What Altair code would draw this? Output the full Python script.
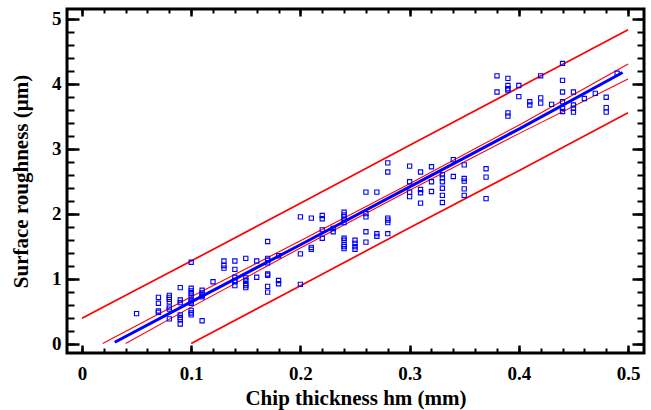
import altair as alt
import pandas as pd

# Scatter points: chip thickness (mm) and surface roughness (um)
thickness = (
    [0.05] +
    [0.07] * 4 +
    [0.08] * 7 +
    [0.09] * 7 +
    [0.10] * 11 +
    [0.11] * 5 +
    [0.12] +
    [0.13] * 3 +
    [0.14] * 6 +
    [0.15] * 6 +
    [0.16] * 2 +
    [0.17] * 8 +
    [0.18] * 3 +
    [0.20] * 3 +
    [0.21] * 3 +
    [0.22] * 4 +
    [0.23] * 2 +
    [0.24] * 10 +
    [0.25] * 4 +
    [0.26] * 5 +
    [0.27] * 3 +
    [0.28] * 6 +
    [0.30] * 4 +
    [0.31] * 4 +
    [0.32] * 3 +
    [0.33] * 6 +
    [0.34] * 2 +
    [0.35] * 5 +
    [0.37] * 3 +
    [0.38] * 2 +
    [0.39] * 6 +
    [0.40] * 2 +
    [0.41] * 2 +
    [0.42] * 3 +
    [0.43] +
    [0.44] * 6 +
    [0.45] * 4 +
    [0.46] +
    [0.47] +
    [0.48] * 3 +
    [0.49]
)
roughness = (
    [0.46] +
    [0.71, 0.62, 0.50, 0.48] +
    [0.74, 0.71, 0.68, 0.64, 0.56, 0.53, 0.38] +
    [0.86, 0.67, 0.63, 0.44, 0.40, 0.37, 0.30] +
    [1.25, 0.85, 0.81, 0.77, 0.73, 0.67, 0.64, 0.62, 0.51, 0.47, 0.44] +
    [0.82, 0.78, 0.74, 0.72, 0.35] +
    [0.95] +
    [1.27, 1.20, 1.16] +
    [1.27, 1.14, 1.02, 0.97, 0.95, 0.89] +
    [1.31, 1.01, 0.97, 0.92, 0.89, 0.86] +
    [1.27, 1.02] +
    [1.57, 1.31, 1.28, 1.24, 1.07, 1.05, 0.88, 0.79] +
    [1.35, 0.97, 0.92] +
    [1.95, 1.38, 0.91] +
    [1.93, 1.48, 1.45] +
    [1.97, 1.92, 1.75, 1.62] +
    [1.77, 1.72] +
    [2.02, 1.98, 1.95, 1.91, 1.86, 1.62, 1.59, 1.52, 1.49, 1.46] +
    [1.59, 1.54, 1.49, 1.45] +
    [2.33, 2.00, 1.95, 1.72, 1.56] +
    [2.33, 1.69, 1.65] +
    [2.78, 2.64, 1.93, 1.90, 1.86, 1.69] +
    [2.73, 2.49, 2.33, 2.26] +
    [2.64, 2.37, 2.32, 2.16] +
    [2.72, 2.49, 2.34] +
    [2.60, 2.55, 2.49, 2.39, 2.28, 2.17] +
    [2.83, 2.57] +
    [2.75, 2.54, 2.50, 2.38, 2.28] +
    [2.69, 2.56, 2.23] +
    [4.12, 3.87] +
    [4.08, 3.97, 3.92, 3.90, 3.55, 3.50] +
    [3.97, 3.80] +
    [3.72, 3.67] +
    [4.12, 3.78, 3.70] +
    [3.68] +
    [4.31, 4.05, 3.87, 3.72, 3.62, 3.57] +
    [3.87, 3.67, 3.62, 3.56] +
    [3.77] +
    [3.85] +
    [3.79, 3.63, 3.56] +
    [4.16]
)

# Fitted line
fit_x = [0.03, 0.10, 0.20, 0.30, 0.40, 0.495]
fit_y = [0.02, 0.64, 1.52, 2.41, 3.30, 4.17]
# Confidence band
conf_up_x = [0.019, 0.10, 0.20, 0.30, 0.40, 0.50]
conf_up_y = [0.00, 0.72, 1.58, 2.46, 3.36, 4.30]
conf_lo_x = [0.04, 0.10, 0.20, 0.30, 0.40, 0.50]
conf_lo_y = [0.00, 0.56, 1.47, 2.36, 3.23, 4.07]
# Prediction band
pred_up_x = [0.00, 0.10, 0.20, 0.30, 0.40, 0.50]
pred_up_y = [0.39, 1.27, 2.16, 3.05, 3.94, 4.83]
pred_lo_x = [0.10, 0.20, 0.30, 0.40, 0.50]
pred_lo_y = [0.00, 0.89, 1.78, 2.66, 3.55]

x_major = [0, 0.1, 0.2, 0.3, 0.4, 0.5]
x_minor = [round(i * 0.02, 2) for i in range(26)]
y_major = [0, 1, 2, 3, 4, 5]
y_minor = [round(i * 0.2, 1) for i in range(26)]

pts = pd.DataFrame({"x": thickness, "y": roughness})
fit = pd.DataFrame({"x": fit_x, "y": fit_y})
conf = pd.concat([
    pd.DataFrame({"x": conf_up_x, "y": conf_up_y, "k": "up"}),
    pd.DataFrame({"x": conf_lo_x, "y": conf_lo_y, "k": "lo"}),
])
pred = pd.concat([
    pd.DataFrame({"x": pred_up_x, "y": pred_up_y, "k": "up"}),
    pd.DataFrame({"x": pred_lo_x, "y": pred_lo_y, "k": "lo"}),
])

FONT = "Liberation Serif"
xs = alt.Scale(domain=[-0.0137, 0.5146], nice=False, zero=False)
ys = alt.Scale(domain=[-0.146, 5.148], nice=False, zero=False)

common = dict(domain=False, grid=False, tickColor="black")

ax_bottom = alt.Axis(orient="bottom", values=x_major, tickSize=8, offset=-8, tickWidth=2.5,
                     labelExpr="datum.value == 0 ? '0' : format(datum.value, '.1f')",
                     labelFont=FONT, labelFontWeight="bold", labelFontSize=19, labelColor="black",
                     labelPadding=11, title="Chip thickness hm (mm)", titleFont=FONT,
                     titleFontWeight="bold", titleFontSize=21, titleColor="black", titlePadding=4,
                     **common)
ax_bottom_minor = alt.Axis(orient="bottom", values=x_minor, tickSize=5, offset=-5, tickWidth=2,
                           labels=False, title="", **common)
ax_top = alt.Axis(orient="top", values=x_major, tickSize=7, offset=-7, tickWidth=2.5,
                  labels=False, title="", **common)
ax_top_minor = alt.Axis(orient="top", values=x_minor, tickSize=4, offset=-4, tickWidth=2,
                        labels=False, title="", **common)

ax_left = alt.Axis(orient="left", values=y_major, tickSize=12, offset=-12, tickWidth=2.5,
                   format="d", labelFont=FONT, labelFontWeight="bold", labelFontSize=19,
                   labelColor="black", labelPadding=6, title="Surface roughness (μm)",
                   titleFont=FONT, titleFontWeight="bold", titleFontSize=21, titleColor="black",
                   titlePadding=20, **common)
ax_left_minor = alt.Axis(orient="left", values=y_minor, tickSize=7, offset=-7, tickWidth=2,
                         labels=False, title="", **common)
ax_right = alt.Axis(orient="right", values=y_major, tickSize=12, offset=-12, tickWidth=2.5,
                    labels=False, title="", **common)
ax_right_minor = alt.Axis(orient="right", values=y_minor, tickSize=7, offset=-7, tickWidth=2,
                          labels=False, title="", **common)

pred_layer = alt.Chart(pred).mark_line(color="#ff0000", strokeWidth=1.7, clip=True).encode(
    x=alt.X("x:Q", scale=xs, axis=ax_top_minor),
    y=alt.Y("y:Q", scale=ys, axis=ax_right_minor),
    detail="k:N",
)
conf_layer = alt.Chart(conf).mark_line(color="#ff0000", strokeWidth=1.1, clip=True).encode(
    x=alt.X("x:Q", scale=xs, axis=ax_top),
    y=alt.Y("y:Q", scale=ys, axis=ax_right),
    detail="k:N",
)
fit_layer = alt.Chart(fit).mark_line(color="#0000ff", strokeWidth=3, clip=True).encode(
    x=alt.X("x:Q", scale=xs, axis=ax_bottom_minor),
    y=alt.Y("y:Q", scale=ys, axis=ax_left_minor),
)
pts_layer = alt.Chart(pts).mark_point(shape="square", filled=False, color="#0000ff",
                                      size=18, strokeWidth=1.1, opacity=1, clip=True).encode(
    x=alt.X("x:Q", scale=xs, axis=ax_bottom),
    y=alt.Y("y:Q", scale=ys, axis=ax_left),
)

chart = alt.layer(pred_layer, conf_layer, fit_layer, pts_layer).resolve_axis(
    x="independent", y="independent"
).properties(
    width=577, height=344,
    autosize=alt.AutoSizeParams(type="none"),
    padding={"left": 67, "top": 9, "right": 7, "bottom": 57},
    background="white",
).configure_view(stroke="black", strokeWidth=3)

chart.save("out.html", embed_options={"renderer": "svg", "actions": False})
